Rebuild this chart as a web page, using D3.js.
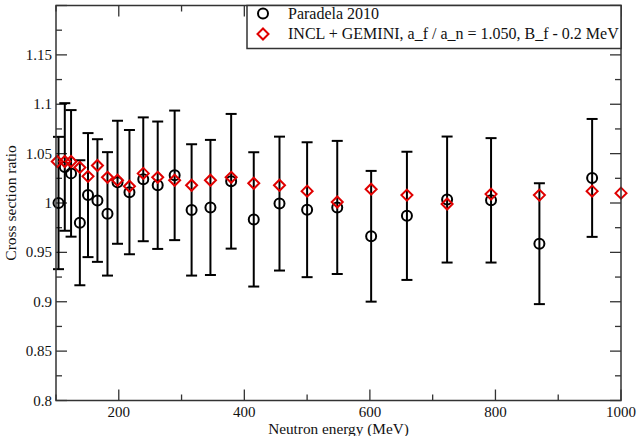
<!DOCTYPE html>
<html>
<head>
<meta charset="utf-8">
<script src="https://cdn.jsdelivr.net/npm/d3@7"></script>
<style>
  body { margin: 0; background: #fff; }
</style>
</head>
<body>
<div id="frame_div"></div>
<script>
// chart size and margins
const FRAME_WIDTH = 639;
const FRAME_HEIGHT = 436;
const MARGINS = {left: 56, right: 18, top: 5.5, bottom: 35.5};
const FONT = "'Liberation Serif', 'DejaVu Serif', 'Times New Roman', serif";

// Paradela 2010 measurements
const energy = [104, 114, 124, 138, 151, 166, 182, 198, 217, 239, 262, 289, 316,
                346, 379, 415, 456, 500, 548, 602, 659, 723, 793, 870, 954];
const ratio = [1.000, 1.0365, 1.030, 0.980, 1.008, 1.0025, 0.989, 1.021, 1.011, 1.024,
               1.018, 1.028, 0.993, 0.9955, 1.022, 0.9834, 0.9994, 0.9932, 0.9955,
               0.9663, 0.987, 1.0035, 1.0027, 0.9588, 1.0254];
const ratioErr = [0.067, 0.0646, 0.0641, 0.0633, 0.0628, 0.0621, 0.0625, 0.0623, 0.0629,
                  0.0627, 0.0645, 0.0656, 0.0665, 0.0684, 0.0682, 0.068, 0.0678, 0.0683,
                  0.0674, 0.0662, 0.0649, 0.0638, 0.063, 0.0612, 0.0597];

// INCL + GEMINI calculation
const modelEnergy = [102, 114, 124, 138, 151, 166, 182, 198, 217, 239, 262, 289, 316,
                     346, 379, 415, 456, 500, 548, 602, 659, 723, 793, 870, 954, 1000];
const modelRatio = [1.042, 1.042, 1.042, 1.036, 1.027, 1.038, 1.026, 1.023, 1.017, 1.030,
                    1.026, 1.023, 1.018, 1.023, 1.026, 1.020, 1.018, 1.012, 1.001, 1.014,
                    1.008, 0.999, 1.009, 1.008, 1.012, 1.010];

const xMajor = [200, 400, 600, 800, 1000];
const yMajor = [0.8, 0.85, 0.9, 0.95, 1, 1.05, 1.1, 1.15];
const legendLabels = ["Paradela 2010", "INCL + GEMINI, a_f / a_n = 1.050, B_f - 0.2 MeV"];

const VIS_WIDTH = FRAME_WIDTH - MARGINS.left - MARGINS.right;
const VIS_HEIGHT = FRAME_HEIGHT - MARGINS.top - MARGINS.bottom;

const FRAME = d3.select("#frame_div")
                .append("svg")
                  .attr("width", FRAME_WIDTH)
                  .attr("height", FRAME_HEIGHT)
                  .style("font-family", FONT);

const X_SCALE = d3.scaleLinear().domain([100, 1000]).range([MARGINS.left, MARGINS.left + VIS_WIDTH]);
const Y_SCALE = d3.scaleLinear().domain([0.8, 1.2]).range([MARGINS.top + VIS_HEIGHT, MARGINS.top]);

const x0 = MARGINS.left, x1 = MARGINS.left + VIS_WIDTH;
const y0 = MARGINS.top + VIS_HEIGHT, y1 = MARGINS.top;

// ticks, inward on all four sides
const xMinor = d3.range(100, 1001, 100).filter(v => !xMajor.includes(v));
const yAll = d3.range(0, 17).map(i => +(0.8 + i * 0.025).toFixed(4));

const ticks = FRAME.append("g").attr("stroke", "#333").attr("stroke-width", 1.3);
[...xMajor.map(v => [v, 11]), ...xMinor.map(v => [v, 6])].forEach(([v, len]) => {
  ticks.append("line").attr("x1", X_SCALE(v)).attr("x2", X_SCALE(v)).attr("y1", y0).attr("y2", y0 - len);
  ticks.append("line").attr("x1", X_SCALE(v)).attr("x2", X_SCALE(v)).attr("y1", y1).attr("y2", y1 + len);
});
yAll.forEach((v, i) => {
  const len = (i % 2 === 0) ? 11 : 6;
  ticks.append("line").attr("x1", x0).attr("x2", x0 + len).attr("y1", Y_SCALE(v)).attr("y2", Y_SCALE(v));
  ticks.append("line").attr("x1", x1).attr("x2", x1 - len).attr("y1", Y_SCALE(v)).attr("y2", Y_SCALE(v));
});

// tick labels
FRAME.selectAll(".xlab").data(xMajor).enter().append("text")
  .attr("x", d => X_SCALE(d)).attr("y", y0 + 16)
  .attr("text-anchor", "middle").attr("font-size", 15).attr("fill", "#111")
  .style("font-family", FONT)
  .text(d => d);
FRAME.selectAll(".ylab").data(yMajor).enter().append("text")
  .attr("x", x0 - 4).attr("y", d => Y_SCALE(d) + 5)
  .attr("text-anchor", "end").attr("font-size", 15).attr("fill", "#111")
  .style("font-family", FONT)
  .text(d => d3.format("")(d));

// axis titles
FRAME.append("text")
  .attr("x", (x0 + x1) / 2).attr("y", 433.5)
  .attr("text-anchor", "middle").attr("font-size", 15.3).attr("fill", "#111")
  .style("font-family", FONT)
  .text("Neutron energy (MeV)");
FRAME.append("text")
  .attr("transform", `translate(16,${(y0 + y1) / 2}) rotate(-90)`)
  .attr("text-anchor", "middle").attr("font-size", 15.5).attr("fill", "#111")
  .style("font-family", FONT)
  .text("Cross section ratio");

// error bars
const bars = FRAME.append("g").attr("stroke", "#000").attr("stroke-width", 2).attr("fill", "none");
energy.forEach((e, i) => {
  const cx = X_SCALE(e);
  const top = Y_SCALE(ratio[i] + ratioErr[i]);
  const bot = Y_SCALE(ratio[i] - ratioErr[i]);
  bars.append("line").attr("x1", cx).attr("x2", cx).attr("y1", top).attr("y2", bot);
  bars.append("line").attr("x1", cx - 5.5).attr("x2", cx + 5.5).attr("y1", top).attr("y2", top);
  bars.append("line").attr("x1", cx - 5.5).attr("x2", cx + 5.5).attr("y1", bot).attr("y2", bot);
});

// data circles
FRAME.selectAll(".pt").data(energy).enter().append("circle")
  .attr("cx", d => X_SCALE(d))
  .attr("cy", (d, i) => Y_SCALE(ratio[i]))
  .attr("r", 5)
  .attr("fill", "none").attr("stroke", "#000").attr("stroke-width", 2);

// model diamonds
const diamond = (cx, cy, r) => `M${cx},${cy - r}L${cx + r},${cy}L${cx},${cy + r}L${cx - r},${cy}Z`;
FRAME.selectAll(".md").data(modelEnergy).enter().append("path")
  .attr("d", (d, i) => diamond(X_SCALE(d), Y_SCALE(modelRatio[i]), 5.5))
  .attr("fill", "none").attr("stroke", "#e00000").attr("stroke-width", 2);

// frame
FRAME.append("rect")
  .attr("x", x0).attr("y", y1).attr("width", VIS_WIDTH).attr("height", VIS_HEIGHT)
  .attr("fill", "none").attr("stroke", "#333").attr("stroke-width", 1.5);

// legend
const LEG = FRAME.append("g");
LEG.append("rect")
  .attr("x", 247).attr("y", y1).attr("width", x1 - 247).attr("height", 43)
  .attr("fill", "#fff").attr("stroke", "#333").attr("stroke-width", 1.5);
LEG.append("circle").attr("cx", 263).attr("cy", 13.5).attr("r", 5)
  .attr("fill", "none").attr("stroke", "#000").attr("stroke-width", 2);
LEG.append("path").attr("d", diamond(263, 34, 5.5))
  .attr("fill", "none").attr("stroke", "#e00000").attr("stroke-width", 2);
LEG.selectAll(".lt").data(legendLabels).enter().append("text")
  .attr("x", 288).attr("y", (d, i) => 18.5 + i * 20)
  .attr("font-size", 16).attr("fill", "#111")
  .style("font-family", FONT)
  .text(d => d);
</script>
</body>
</html>
